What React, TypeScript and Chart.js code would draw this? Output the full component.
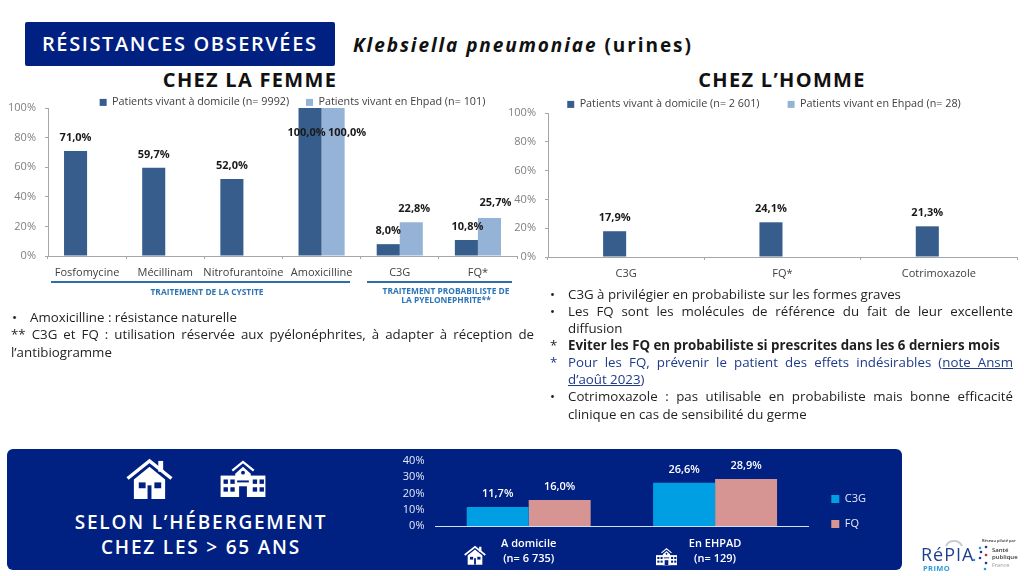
import React, { useEffect, useRef } from "react";
import { Chart, registerables } from "chart.js";

Chart.register(...registerables);

const FONT = '"Open Sans", sans-serif';
const NAVY = "#002082";
const DARK_BAR = "#365d8c";
const LIGHT_BAR = "#95b3d7";

// Chez la femme
const womenCategories = ["Fosfomycine", "Mécillinam", "Nitrofurantoïne", "Amoxicilline", "C3G", "FQ*"];
const womenHome = [71.0, 59.7, 52.0, 100.0, 8.0, 10.8];
const womenEhpad = [null, null, null, 100.0, 22.8, 25.7];
const womenHomeLabel = "Patients vivant à domicile (n= 9992)";
const womenEhpadLabel = "Patients vivant en Ehpad (n= 101)";

// Chez l'homme
const menCategories = ["C3G", "FQ*", "Cotrimoxazole"];
const menHome = [17.9, 24.1, 21.3];
const menEhpad = [null, null, null];
const menHomeLabel = "Patients vivant à domicile (n= 2 601)";
const menEhpadLabel = "Patients vivant en Ehpad (n= 28)";

// Selon l'hébergement
const housingCategories = [["A domicile", "(n= 6 735)"], ["En EHPAD", "(n= 129)"]];
const housingC3G = [11.7, 26.6];
const housingFQ = [16.0, 28.9];

const fr = (v: number) => v.toFixed(1).replace(".", ",") + "%";

const barLabels = {
  id: "barLabels",
  afterDatasetsDraw(chart: any, _a: any, opts: any) {
    const ctx = chart.ctx;
    ctx.save();
    ctx.font = `${opts.weight} ${opts.size}px ${FONT}`;
    ctx.fillStyle = opts.color;
    ctx.textAlign = "center";
    ctx.textBaseline = "middle";
    chart.data.datasets.forEach((ds: any, di: number) => {
      chart.getDatasetMeta(di).data.forEach((el: any, i: number) => {
        if (ds.data[i] == null) return;
        const n = (opts.nudges && opts.nudges[`${di}:${i}`]) || [0, 0];
        ctx.fillText(fr(ds.data[i]), el.x + n[0], el.y - 13 + n[1]);
      });
    });
    ctx.restore();
  },
};

const shiftLegend = {
  id: "shiftLegend",
  afterLayout(chart: any, _a: any, opts: any) {
    if (chart.legend) {
      chart.legend.left += opts.dx || 0;
      chart.legend.right += opts.dx || 0;
      chart.legend.top += opts.dy || 0;
      chart.legend.bottom += opts.dy || 0;
    }
  },
};

function ChartBox({ left, top, width, height, config }: any) {
  const ref = useRef<HTMLCanvasElement>(null);
  useEffect(() => {
    const chart = new Chart(ref.current as HTMLCanvasElement, config);
    return () => chart.destroy();
  }, []);
  return (
    <canvas
      ref={ref}
      width={width}
      height={height}
      style={{ position: "absolute", left, top, width, height, display: "block" }}
    />
  );
}

const axisGrey = "#a6a6a6";

function residentConfig(o: any) {
  return {
    type: "bar",
    plugins: [barLabels, shiftLegend],
    data: {
      labels: o.labels,
      datasets: [
        { label: o.homeLabel + "\u00a0".repeat(o.gap), data: o.home, backgroundColor: DARK_BAR, barPercentage: 1, categoryPercentage: o.catPct },
        { label: o.ehpadLabel, data: o.ehpad, backgroundColor: LIGHT_BAR, barPercentage: 1, categoryPercentage: o.catPct },
      ],
    },
    options: {
      animation: false,
      responsive: false,
      devicePixelRatio: 1,
      layout: { padding: { left: 0, right: o.padRight, top: 0, bottom: 0 } },
      plugins: {
        tooltip: { enabled: false },
        shiftLegend: { dx: o.dx, dy: o.dy },
        legend: {
          position: "top",
          maxHeight: o.legendHeight,
          labels: { boxWidth: 7, boxHeight: 7, padding: 0, color: "#404040", font: { family: FONT, size: 10.8 } },
        },
        barLabels: { weight: 700, size: 11, color: "#1a1a1a", nudges: o.nudges },
      },
      scales: {
        x: {
          type: "category",
          border: { color: axisGrey },
          grid: { drawOnChartArea: false, color: axisGrey, tickLength: 3 },
          ticks: { color: "#404040", font: { family: FONT, size: 11 }, padding: 7, maxRotation: 0, autoSkip: false },
          afterFit: (s: any) => { s.height = 25; },
        },
        y: {
          min: 0,
          max: 100,
          border: { color: axisGrey },
          grid: { drawOnChartArea: false, color: axisGrey, tickLength: 3 },
          ticks: { stepSize: 20, padding: 9, color: "#7f7f7f", font: { family: FONT, size: 11 }, callback: (v: number) => v + "%" },
          afterFit: (s: any) => { s.width = o.axisWidth; s.paddingTop = 0; s.paddingBottom = 0; },
        },
      },
    },
  };
}

const womenConfig = residentConfig({
  labels: womenCategories,
  home: womenHome,
  ehpad: womenEhpad,
  homeLabel: womenHomeLabel,
  ehpadLabel: womenEhpadLabel,
  catPct: 0.59,
  padRight: 67,
  gap: 6,
  dx: 34,
  dy: 0,
  legendHeight: 11,
  axisWidth: 48,
  nudges: { "0:3": [-3.5, 38], "1:3": [14, 38], "1:4": [3, 0], "0:5": [1, 0], "1:5": [6, -2] },
});

const menConfig = residentConfig({
  labels: menCategories,
  home: menHome,
  ehpad: menEhpad,
  homeLabel: menHomeLabel,
  ehpadLabel: menEhpadLabel,
  catPct: 0.295,
  padRight: 6,
  gap: 10,
  dx: 3,
  dy: 1,
  legendHeight: 15,
  axisWidth: 43,
  nudges: {},
});

const housingConfig = {
  type: "bar",
  plugins: [barLabels, shiftLegend],
  data: {
    labels: housingCategories,
    datasets: [
      { label: "C3G", data: housingC3G, backgroundColor: "#009fe3", barPercentage: 1, categoryPercentage: 0.665 },
      { label: "FQ", data: housingFQ, backgroundColor: "#d69592", barPercentage: 1, categoryPercentage: 0.665 },
    ],
  },
  options: {
    animation: false,
    responsive: false,
    devicePixelRatio: 1,
    layout: { padding: { top: 8, right: 0, left: 0, bottom: 0 } },
    plugins: {
      tooltip: { enabled: false },
      shiftLegend: { dx: 9, dy: -3 },
      legend: {
        position: "right",
        labels: { boxWidth: 8, boxHeight: 8, padding: 14, color: "#e6ecf8", font: { family: FONT, size: 11 } },
      },
      barLabels: { weight: 600, size: 11, color: "#ffffff", nudges: {} },
    },
    scales: {
      x: {
        type: "category",
        border: { color: "#cfe0f5" },
        grid: { display: false, drawTicks: false },
        ticks: { color: "#ffffff", font: { family: FONT, size: 11, weight: 600, lineHeight: 1.36 }, padding: 10, maxRotation: 0, autoSkip: false },
        afterFit: (s: any) => { s.height = 42; },
      },
      y: {
        min: 0,
        max: 40,
        border: { display: false },
        grid: { display: false, drawTicks: false },
        ticks: { stepSize: 10, autoSkip: false, padding: 11, color: "#e6ecf8", font: { family: FONT, size: 11 }, callback: (v: number) => v + "%" },
        afterFit: (s: any) => { s.width = 38.5; s.paddingTop = 0; s.paddingBottom = 0; },
      },
    },
  },
};

function T({ x, y, w, size = 13.3, weight = 400, color = "#1f1f1f", justify, center, spacing, children, italic }: any) {
  return (
    <div
      style={{
        position: "absolute",
        left: x,
        top: y,
        width: w,
        transform: "translateY(-50%)",
        fontFamily: FONT,
        fontSize: size,
        fontWeight: weight,
        fontStyle: italic ? "italic" : "normal",
        color,
        lineHeight: 1.2,
        letterSpacing: spacing,
        whiteSpace: justify ? "normal" : "nowrap",
        textAlign: justify ? "justify" : center ? "center" : "left",
        textAlignLast: justify ? "justify" : center ? "center" : "left",
      }}
    >
      {children}
    </div>
  );
}

function House({ x, y, w, h, bg }: any) {
  return (
    <svg style={{ position: "absolute", left: x, top: y }} width={w} height={h} viewBox="0 0 48 42">
      <rect x="33" y="3" width="5" height="11" fill="#fff" />
      <polygon points="8,22 24,9 40,22 40,42 8,42" fill="#fff" />
      <polyline points="1.5,21 24,3 46.5,21" fill="none" stroke="#fff" strokeWidth="3.5" />
      <rect x="13" y="25" width="7" height="6" fill={bg} />
      <rect x="29" y="25" width="7" height="6" fill={bg} />
      <rect x="22" y="28" width="4" height="14" fill={bg} />
    </svg>
  );
}

function School({ x, y, w, h, bg }: any) {
  return (
    <svg style={{ position: "absolute", left: x, top: y }} width={w} height={h} viewBox="0 0 46 38">
      <polyline points="12,11 23,2 34,11" fill="none" stroke="#fff" strokeWidth="2.4" />
      <polygon points="15,14 23,7 31,14 31,38 15,38" fill="#fff" />
      <rect x="0" y="16" width="46" height="22" fill="#fff" />
      <circle cx="23" cy="13" r="2" fill={bg} />
      {[3, 10, 33, 40].map((wx) => (
        <React.Fragment key={wx}>
          <rect x={wx} y="20" width="4.5" height="4.5" fill={bg} />
          <rect x={wx} y="28" width="4.5" height="4.5" fill={bg} />
        </React.Fragment>
      ))}
      <rect x="17" y="21" width="12" height="2" fill={bg} />
      <rect x="19" y="27" width="8" height="11" fill={bg} />
    </svg>
  );
}

function Logo() {
  const dots = [[981, 552, "#1f3a8a"], [986, 547, "#1f3a8a"], [986, 555, "#d3232a"], [980, 558, "#1f3a8a"], [974, 560, "#2e9bd6"], [986, 563, "#1f3a8a"], [985, 569, "#2e9bd6"], [980, 548, "#2e9bd6"]];
  return (
    <>
      <svg style={{ position: "absolute", left: 915, top: 535 }} width="109" height="41" viewBox="915 535 109 41">
        <path d="M946 546 a9 9 0 0 1 16 0" fill="none" stroke="#c8ccd2" strokeWidth="2" />
        {dots.map(([cx, cy, fill], i) => (
          <circle key={i} cx={cx as number} cy={cy as number} r="1.3" fill={fill as string} />
        ))}
      </svg>
      <T x={921} y={555} size={18} weight={400} color="#1f3f8f" spacing={1}>RéPIA</T>
      <T x={923} y={568} size={7.5} weight={700} color="#2e9bd6" spacing={0.4}>PRIMO</T>
      <T x={982} y={541} size={4} weight={600} color="#333">Réseau piloté par</T>
      <T x={992} y={551} size={6} weight={600} color="#333">Santé</T>
      <T x={992} y={558} size={6} weight={600} color="#333">publique</T>
      <T x={992} y={565} size={5.5} color="#999">France</T>
    </>
  );
}

export default function App() {
  return (
    <div style={{ position: "fixed", left: 0, top: 0, width: 1024, height: 576, background: "#fff", overflow: "hidden" }}>
      <div style={{ position: "absolute", left: 25, top: 22, width: 310, height: 44, background: NAVY, borderRadius: 2 }} />
      <T x={42} y={44} size={20} weight={600} color="#fff" spacing={1.6}>RÉSISTANCES OBSERVÉES</T>
      <T x={353} y={45} size={19} weight={700} color="#111" spacing={1.93}>
        <i>Klebsiella pneumoniae</i> (urines)
      </T>
      <T x={100} y={80} w={300} size={20} weight={700} color="#111" center spacing={1.3}>CHEZ LA FEMME</T>
      <T x={632} y={80} w={300} size={20} weight={700} color="#111" center spacing={1.3}>CHEZ L’HOMME</T>

      <ChartBox left={0} top={97} width={584} height={184} config={womenConfig} />
      <ChartBox left={505} top={98} width={518} height={184} config={menConfig} />

      <div style={{ position: "absolute", left: 51, top: 281, width: 299, height: 2, background: "#2f6ea6" }} />
      <div style={{ position: "absolute", left: 367, top: 281, width: 145, height: 2, background: "#2f6ea6" }} />
      <T x={107} y={292} w={200} size={8.4} weight={700} color="#2e75b6" center>TRAITEMENT DE LA CYSTITE</T>
      <T x={346} y={291} w={200} size={8.4} weight={700} color="#2e75b6" center>TRAITEMENT PROBABILISTE DE</T>
      <T x={346} y={300} w={200} size={8.4} weight={700} color="#2e75b6" center>LA PYELONEPHRITE**</T>

      <T x={12} y={318}>•</T>
      <T x={30} y={318}>Amoxicilline : résistance naturelle</T>
      <T x={11} y={335} w={523} justify>** C3G et FQ : utilisation réservée aux pyélonéphrites, à adapter à réception de</T>
      <T x={11} y={352.5}>l’antibiogramme</T>

      <T x={550} y={295}>•</T>
      <T x={568} y={295}>C3G à privilégier en probabiliste sur les formes graves</T>
      <T x={550} y={312}>•</T>
      <T x={568} y={312} w={445} justify>Les FQ sont les molécules de référence du fait de leur excellente</T>
      <T x={568} y={329}>diffusion</T>
      <T x={550} y={346}>*</T>
      <T x={568} y={346} weight={700}>Eviter les FQ en probabiliste si prescrites dans les 6 derniers mois</T>
      <T x={550} y={363} color="#1f3a8a">*</T>
      <T x={568} y={363} w={445} color="#1f3a8a" justify>
        Pour les FQ, prévenir le patient des effets indésirables (<u>note Ansm</u>
      </T>
      <T x={568} y={380} color="#1f3a8a"><u>d’août 2023</u>)</T>
      <T x={550} y={397}>•</T>
      <T x={568} y={397} w={445} justify>Cotrimoxazole : pas utilisable en probabiliste mais bonne efficacité</T>
      <T x={568} y={414.5}>clinique en cas de sensibilité du germe</T>

      <div style={{ position: "absolute", left: 7, top: 449, width: 895, height: 121, background: NAVY, borderRadius: 6 }} />
      <House x={126} y={458} w={47} h={41} bg={NAVY} />
      <School x={220} y={460} w={46} h={37} bg={NAVY} />
      <T x={51} y={522} w={300} size={19} weight={600} color="#fff" center spacing={1.8}>SELON L’HÉBERGEMENT</T>
      <T x={51} y={546.5} w={300} size={19} weight={600} color="#fff" center spacing={1.8}>CHEZ LES &gt; 65 ANS</T>
      <ChartBox left={397} top={453} width={470} height={115} config={housingConfig} />
      <House x={464} y={545} w={22} h={20} bg={NAVY} />
      <School x={656} y={547} w={21} h={19} bg={NAVY} />
      <Logo />
    </div>
  );
}
